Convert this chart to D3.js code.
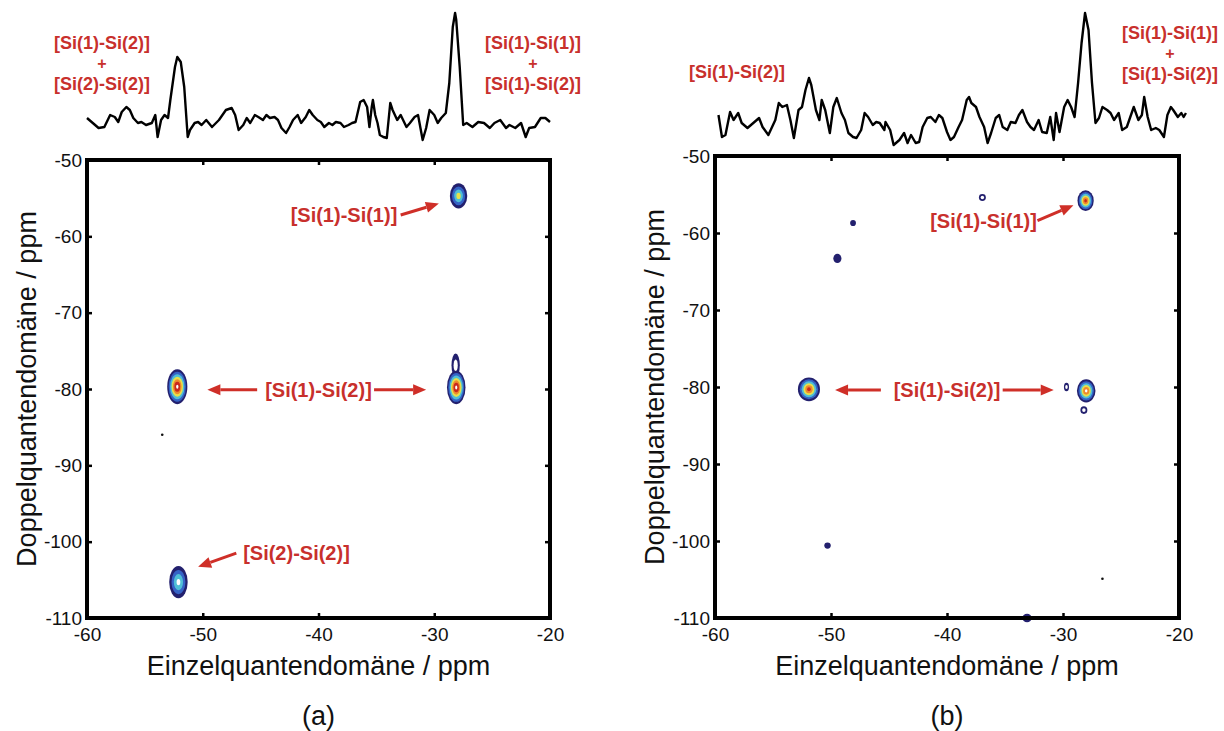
<!DOCTYPE html>
<meta charset="utf-8">
<style>
    body { margin: 0; background: #fff; }
    svg text { font-family: "Liberation Sans", Arial, sans-serif; }
    .tick text { font-size: 19px; fill: #111; }
    .lbl { fill: #c8302c; font-weight: bold; }
    .title { font-size: 27px; fill: #111; }
</style>

<body>
    <script src="https://d3js.org/d3.v7.min.js"></script>
    <svg width="1224" height="731"></svg>
    <script>
        // axis ticks (ppm)
        var sqTicks = [-60, -50, -40, -30, -20];
        var dqTicks = [-50, -60, -70, -80, -90, -100, -110];

        // 1D projections on top: [ppm, intensity (a.u.)]
        var specA = [[-60.0,32],[-59.5,27],[-59.0,22],[-58.5,23],[-58.0,35],[-57.6,33],[-57.3,28],[-57.0,38],[-56.6,43],[-56.3,40],[-56.0,32],[-55.6,27],[-55.3,28],[-54.9,25],[-54.4,27],[-54.1,35],[-53.9,13],[-53.6,30],[-53.3,35],[-53.0,32],[-52.8,50],[-52.4,83],[-52.2,93],[-51.9,88],[-51.6,63],[-51.3,13],[-51.1,20],[-50.7,27],[-50.4,28],[-50.1,25],[-49.7,30],[-49.2,23],[-48.6,30],[-48.0,40],[-47.5,42],[-47.2,35],[-46.9,20],[-46.5,25],[-46.2,32],[-45.9,27],[-45.5,35],[-45.2,33],[-44.8,30],[-44.5,35],[-44.2,32],[-43.8,33],[-43.5,30],[-43.2,22],[-42.8,17],[-42.5,23],[-42.2,30],[-41.8,35],[-41.5,27],[-41.1,33],[-40.8,40],[-40.5,35],[-40.1,30],[-39.8,28],[-39.5,23],[-39.1,27],[-38.8,25],[-38.5,28],[-38.1,27],[-37.8,23],[-37.4,25],[-37.1,27],[-36.8,28],[-36.4,48],[-36.1,50],[-35.8,43],[-35.6,23],[-35.4,43],[-35.3,50],[-35.1,35],[-34.9,27],[-34.7,15],[-34.4,13],[-34.1,12],[-33.8,47],[-33.6,40],[-33.2,30],[-32.9,35],[-32.4,23],[-32.1,27],[-31.7,33],[-31.4,35],[-31.0,10],[-30.7,22],[-30.4,40],[-30.0,35],[-29.7,27],[-29.4,32],[-29.0,37],[-28.7,67],[-28.4,123],[-28.2,137],[-28.1,130],[-27.8,83],[-27.5,25],[-27.2,27],[-26.7,23],[-26.2,28],[-25.7,27],[-25.2,22],[-24.8,27],[-24.3,30],[-23.8,22],[-23.5,25],[-23.0,22],[-22.5,27],[-22.1,13],[-21.8,22],[-21.3,23],[-20.8,32],[-20.4,32],[-20.0,28]];

        var specB = [[-59.7,35],[-59.4,13],[-59.1,15],[-58.7,38],[-58.4,30],[-58.0,37],[-57.7,27],[-57.2,22],[-56.7,27],[-56.2,32],[-55.9,23],[-55.4,15],[-54.8,30],[-54.5,47],[-54.2,43],[-53.8,45],[-53.5,30],[-53.2,12],[-52.8,40],[-52.5,43],[-52.2,60],[-51.9,72],[-51.7,65],[-51.3,40],[-51.0,30],[-50.8,50],[-50.5,40],[-50.1,17],[-49.8,43],[-49.5,52],[-49.1,37],[-48.8,30],[-48.5,17],[-48.1,13],[-47.8,12],[-47.4,20],[-47.1,37],[-46.8,33],[-46.4,25],[-46.1,28],[-45.8,27],[-45.4,20],[-45.3,28],[-44.9,20],[-44.6,5],[-44.1,10],[-43.7,17],[-43.4,7],[-43.1,15],[-42.7,7],[-42.4,8],[-42.1,23],[-41.7,32],[-41.4,33],[-41.0,28],[-40.7,35],[-40.4,32],[-40.0,18],[-39.7,10],[-39.4,13],[-39.0,23],[-38.7,30],[-38.3,50],[-38.1,53],[-37.9,47],[-37.5,43],[-37.2,33],[-36.8,23],[-36.5,7],[-36.2,17],[-35.8,32],[-35.5,35],[-35.2,23],[-34.8,20],[-34.5,28],[-34.1,27],[-33.8,35],[-33.5,40],[-33.1,28],[-32.8,23],[-32.5,20],[-32.1,30],[-31.8,18],[-31.4,17],[-31.1,33],[-30.8,10],[-30.6,37],[-30.3,18],[-29.9,43],[-29.6,50],[-29.3,43],[-29.0,33],[-28.7,67],[-28.4,107],[-28.1,137],[-27.8,120],[-27.5,67],[-27.2,27],[-26.9,32],[-26.6,43],[-26.2,40],[-25.9,37],[-25.6,30],[-25.2,37],[-24.9,20],[-24.5,23],[-24.2,33],[-23.9,43],[-23.5,30],[-23.2,35],[-23.0,53],[-22.7,33],[-22.4,20],[-22.0,22],[-21.7,20],[-21.3,13],[-21.0,35],[-20.7,43],[-20.5,40],[-20.1,33],[-19.8,37],[-19.6,33],[-19.4,37]];

        // 2D cross peaks: single quantum ppm, double quantum ppm, half widths (ppm), contour levels
        var spotsA = [
            { sq: -28.15, dq: -76.9, wx: 0.36, wy: 1.55, levels: 1, hole: true },
            { sq: -52.2, dq: -79.7, wx: 0.87, wy: 2.3, levels: 6, hole: true },
            { sq: -28.1, dq: -79.8, wx: 0.8, wy: 2.2, levels: 6, hole: true },
            { sq: -27.9, dq: -54.7, wx: 0.75, wy: 1.65, levels: 4, hole: false },
            { sq: -52.1, dq: -105.3, wx: 0.8, wy: 2.1, levels: 3, hole: true },
            { sq: -53.5, dq: -86.0, wx: 0, wy: 0, levels: 0, hole: false }
        ];
        var spotsB = [
            { sq: -51.9, dq: -80.3, wx: 0.95, wy: 1.55, levels: 6, hole: false },
            { sq: -28.0, dq: -80.5, wx: 0.8, wy: 1.5, levels: 5, hole: true },
            { sq: -28.05, dq: -55.8, wx: 0.7, wy: 1.35, levels: 6, hole: false },
            { sq: -29.7, dq: -80.0, wx: 0.22, wy: 0.55, levels: 1, hole: true },
            { sq: -28.2, dq: -83.0, wx: 0.3, wy: 0.5, levels: 1, hole: true },
            { sq: -36.95, dq: -55.4, wx: 0.3, wy: 0.45, levels: 1, hole: true },
            { sq: -48.1, dq: -58.7, wx: 0.25, wy: 0.4, levels: 1, hole: false },
            { sq: -49.45, dq: -63.3, wx: 0.35, wy: 0.6, levels: 1, hole: false },
            { sq: -50.3, dq: -100.6, wx: 0.28, wy: 0.4, levels: 1, hole: false },
            { sq: -33.1, dq: -110.0, wx: 0.4, wy: 0.55, levels: 1, hole: false },
            { sq: -26.6, dq: -104.9, wx: 0, wy: 0, levels: 0, hole: false }
        ];

        // annotations inside the 2D plots (ppm coordinates)
        var notesA = [
            { text: "[Si(1)-Si(1)]", sq: -37.8, dq: -57.2, arrows: [[-32.9, -57.2, -29.6, -55.7]] },
            { text: "[Si(1)-Si(2)]", sq: -40.0, dq: -80.1, arrows: [[-45.3, -80.1, -49.6, -80.1], [-35.2, -80.1, -30.7, -80.1]] },
            { text: "[Si(2)-Si(2)]", sq: -41.9, dq: -101.5, arrows: [[-47.1, -101.5, -50.4, -103.3]] }
        ];
        var notesB = [
            { text: "[Si(1)-Si(1)]", sq: -36.85, dq: -58.5, arrows: [[-32.2, -58.4, -29.1, -56.4]] },
            { text: "[Si(1)-Si(2)]", sq: -40.0, dq: -80.4, arrows: [[-45.7, -80.4, -49.65, -80.4], [-35.2, -80.4, -30.8, -80.4]] }
        ];

        // labels above the projections
        var topA = [
            { lines: ["[Si(1)-Si(2)]", "+", "[Si(2)-Si(2)]"], x: 102, y: 43 },
            { lines: ["[Si(1)-Si(1)]", "+", "[Si(1)-Si(2)]"], x: 533, y: 43 }
        ];
        var topB = [
            { lines: ["[Si(1)-Si(2)]"], x: 737, y: 72 },
            { lines: ["[Si(1)-Si(1)]", "+", "[Si(1)-Si(2)]"], x: 1170, y: 33 }
        ];

        var palette = ["#23206e", "#3563c6", "#4fbfd6", "#e8e04a", "#ef8a2d", "#c9291d"];
        var red = "#cf2f28";

        var panels = [
            { spec: specA, spots: spotsA, notes: notesA, tops: topA, name: "(a)", left: 87, right: 550, top: 160, bottom: 618 },
            { spec: specB, spots: spotsB, notes: notesB, tops: topB, name: "(b)", left: 715, right: 1179, top: 156, bottom: 618 }
        ];

        var svg = d3.select("svg");

        panels.forEach(function(P) {
            var x = d3.scaleLinear().domain([-60, -20]).range([P.left, P.right]);
            var y = d3.scaleLinear().domain([-50, -110]).range([P.top, P.bottom]);
            var yS = d3.scaleLinear().domain([0, 140]).range([150, 10]);
            var g = svg.append("g");

            // projection
            g.append("path")
                .datum(P.spec)
                .attr("fill", "none")
                .attr("stroke", "#000")
                .attr("stroke-width", 2.4)
                .attr("stroke-linejoin", "round")
                .attr("d", d3.line().x(function(d) { return x(d[0]); }).y(function(d) { return yS(d[1]); }));

            P.tops.forEach(function(t) {
                t.lines.forEach(function(s, i) {
                    g.append("text")
                        .attr("class", "lbl")
                        .attr("x", t.x)
                        .attr("y", t.y + i * 20.5)
                        .attr("dy", "0.35em")
                        .attr("text-anchor", "middle")
                        .style("font-size", s === "+" ? "16px" : "18px")
                        .text(s);
                });
            });

            // cross peaks as nested contour rings
            P.spots.forEach(function(s) {
                var cx = x(s.sq), cy = y(s.dq);
                if (s.levels === 0) {
                    g.append("circle").attr("cx", cx).attr("cy", cy).attr("r", 1.3).attr("fill", "#111");
                    return;
                }
                var rx = Math.abs(x(s.sq + s.wx) - cx), ry = Math.abs(y(s.dq + s.wy) - cy);
                var n = s.levels + (s.hole ? 1 : 0);
                for (var k = 0; k < s.levels; k++) {
                    var f = 1 - k / n;
                    g.append("ellipse")
                        .attr("cx", cx).attr("cy", cy)
                        .attr("rx", rx * f).attr("ry", ry * f)
                        .attr("fill", palette[k]);
                }
                if (s.hole) {
                    var f2 = s.levels === 1 ? 0.5 : 1 / n * 0.8;
                    g.append("ellipse")
                        .attr("cx", cx).attr("cy", cy)
                        .attr("rx", Math.max(rx * f2, 1)).attr("ry", Math.max(ry * f2, 1.3))
                        .attr("fill", "#fff");
                }
            });

            // axes (ticks pointing inward on all sides)
            var ax = [
                { a: d3.axisBottom(x), t: "translate(0," + P.bottom + ")", lab: true },
                { a: d3.axisTop(x), t: "translate(0," + P.top + ")", lab: false },
                { a: d3.axisLeft(y), t: "translate(" + P.left + ",0)", lab: true },
                { a: d3.axisRight(y), t: "translate(" + P.right + ",0)", lab: false }
            ];
            ax.forEach(function(o, i) {
                var axis = o.a.tickSizeInner(-5).tickSizeOuter(0)
                    .tickValues(i < 2 ? sqTicks : dqTicks)
                    .tickPadding(i < 2 ? 10 : 5);
                if (!o.lab) axis.tickFormat("");
                var ag = g.append("g").attr("transform", o.t).call(axis);
                ag.select(".domain").remove();
                ag.selectAll(".tick line").attr("stroke", "#000").attr("stroke-width", 2.5);
                ag.selectAll(".tick text").text(function(d) { return o.lab ? d : ""; });
            });

            g.append("rect")
                .attr("x", P.left).attr("y", P.top)
                .attr("width", P.right - P.left).attr("height", P.bottom - P.top)
                .attr("fill", "none").attr("stroke", "#000").attr("stroke-width", 4);

            // annotations
            P.notes.forEach(function(nt) {
                g.append("text")
                    .attr("class", "lbl")
                    .attr("x", x(nt.sq)).attr("y", y(nt.dq))
                    .attr("dy", "0.35em")
                    .attr("text-anchor", "middle")
                    .style("font-size", "20px")
                    .text(nt.text);
                nt.arrows.forEach(function(a) {
                    var x0 = x(a[0]), y0 = y(a[1]), x1 = x(a[2]), y1 = y(a[3]);
                    var ang = Math.atan2(y1 - y0, x1 - x0), L = 13, W = 5.5;
                    var bx = x1 - L * Math.cos(ang), by = y1 - L * Math.sin(ang);
                    g.append("line")
                        .attr("x1", x0).attr("y1", y0).attr("x2", bx).attr("y2", by)
                        .attr("stroke", red).attr("stroke-width", 3);
                    g.append("path")
                        .attr("d", "M" + x1 + "," + y1 +
                            "L" + (bx + W * Math.sin(ang)) + "," + (by - W * Math.cos(ang)) +
                            "L" + (bx - W * Math.sin(ang)) + "," + (by + W * Math.cos(ang)) + "Z")
                        .attr("fill", red);
                });
            });

            // titles
            var mid = (P.left + P.right) / 2;
            g.append("text").attr("class", "title")
                .attr("x", mid).attr("y", 666).attr("dy", "0.35em")
                .attr("text-anchor", "middle")
                .text("Einzelquantendomäne / ppm");
            g.append("text").attr("class", "title")
                .attr("transform", "translate(" + (P.left - 60) + "," + ((P.top + P.bottom) / 2) + ")rotate(-90)")
                .attr("dy", "0.35em")
                .attr("text-anchor", "middle")
                .text("Doppelquantendomäne / ppm");
            g.append("text").attr("class", "title")
                .attr("x", mid).attr("y", 716).attr("dy", "0.35em")
                .attr("text-anchor", "middle")
                .text(P.name);
        });
    </script>
</body>
